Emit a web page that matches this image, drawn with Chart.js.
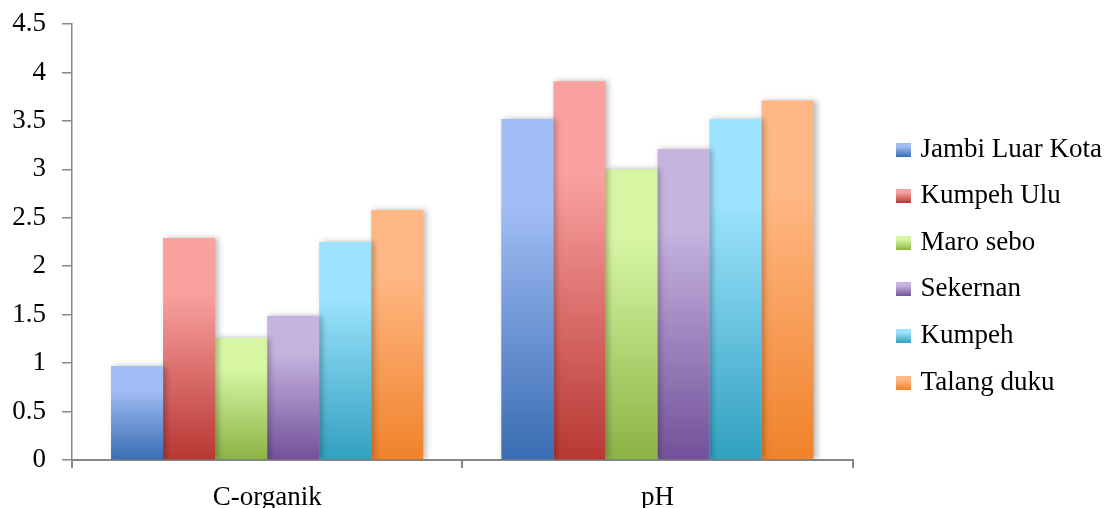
<!DOCTYPE html>
<html>
<head>
<meta charset="utf-8">
<script src="https://cdn.jsdelivr.net/npm/chart.js@4.4.1/dist/chart.umd.min.js"></script>
<style>
  html, body { margin: 0; padding: 0; background: #fff; }
  #wrap { width: 1104px; height: 508px; position: relative; }
</style>
</head>
<body>
<div id="wrap"><canvas id="c" width="1104" height="508"></canvas></div>
<script>
const categories = ['C-organik', 'pH'];
const seriesNames = ['Jambi Luar Kota', 'Kumpeh Ulu', 'Maro sebo', 'Sekernan', 'Kumpeh', 'Talang duku'];
const jambiLuarKota = [0.97, 3.52];
const kumpehUlu = [2.29, 3.91];
const maroSebo = [1.26, 3.0];
const sekernan = [1.49, 3.21];
const kumpeh = [2.25, 3.52];
const talangDuku = [2.58, 3.71];
const yTicks = [0, 0.5, 1, 1.5, 2, 2.5, 3, 3.5, 4, 4.5];

const seriesValues = [jambiLuarKota, kumpehUlu, maroSebo, sekernan, kumpeh, talangDuku];
const lightColors = ['#a2bdf5', '#f9a19f', '#d6f6a4', '#c6b4e0', '#9de3fd', '#ffb885'];
const darkColors  = ['#386cb2', '#b83733', '#8cb244', '#72519a', '#31a0bf', '#f0822a'];

const FONT = '"Liberation Serif", "Times New Roman", serif';
const FS = 27;

function gradFor(ctx2d, top, bottom, i) {
  const g = ctx2d.createLinearGradient(0, top, 0, bottom);
  g.addColorStop(0, lightColors[i]);
  g.addColorStop(0.25, lightColors[i]);
  g.addColorStop(1, darkColors[i]);
  return g;
}

const datasets = seriesNames.map((name, i) => ({
  label: name,
  data: seriesValues[i],
  borderWidth: 0,
  backgroundColor: (c) => {
    const chart = c.chart;
    if (!chart.chartArea || c.type !== 'data') return 'rgba(0,0,0,0)';
    const ys = chart.scales.y;
    const top = ys.getPixelForValue(c.raw);
    const bottom = ys.getPixelForValue(0);
    return gradFor(chart.ctx, top, bottom, c.datasetIndex);
  }
}));

const shadowPlugin = {
  id: 'barShadow',
  beforeDatasetsDraw(chart) {
    const ctx = chart.ctx;
    ctx.save();
    ctx.shadowColor = 'rgba(0,0,0,0.28)';
    ctx.shadowBlur = 6;
    ctx.shadowOffsetX = 3;
    ctx.shadowOffsetY = 0;
  },
  afterDatasetsDraw(chart) {
    chart.ctx.restore();
  }
};

const BOXW = 15;
const BOXH = 14;
const BW = 45.5;
const legendBoxPlugin = {
  id: 'legendBoxes',
  afterDraw(chart) {
    const lg = chart.legend;
    if (!lg || !lg.legendHitBoxes) return;
    const ctx = chart.ctx;
    lg.legendHitBoxes.forEach((hb, i) => {
      const x = Math.round(hb.left + BW + FS / 2 - 25);
      const y = Math.round(hb.top + hb.height / 2 - BOXH / 2);
      ctx.save();
      ctx.fillStyle = gradFor(ctx, y, y + BOXH, i);
      ctx.fillRect(x, y, BOXW, BOXH);
      ctx.restore();
    });
  }
};

new Chart(document.getElementById('c'), {
  type: 'bar',
  data: { labels: categories, datasets },
  options: {
    responsive: false,
    animation: false,
    layout: { padding: { top: 24, right: -8, bottom: 0, left: 0 } },
    datasets: { bar: { barPercentage: 1.0, categoryPercentage: 0.8 } },
    plugins: {
      tooltip: { enabled: false },
      legend: {
        position: 'right',
        labels: {
          boxWidth: BW,
          boxHeight: 37.6,
          padding: 9,
          color: '#000',
          font: { family: FONT, size: FS },
          generateLabels(chart) {
            return chart.data.datasets.map((ds, i) => ({
              text: ds.label,
              fillStyle: 'rgba(0,0,0,0)',
              strokeStyle: 'rgba(0,0,0,0)',
              lineWidth: 0,
              hidden: false,
              datasetIndex: i,
              fontColor: '#000'
            }));
          }
        }
      }
    },
    scales: {
      x: {
        afterFit: (s) => { s.height = 48; s.paddingLeft = 0; s.paddingRight = 0; },
        grid: { display: true, drawOnChartArea: false, drawTicks: true, tickLength: 8, color: '#888', offset: true, lineWidth: 2 },
        border: { display: true, color: '#888', width: 2 },
        ticks: { color: '#000', padding: 16, font: { family: FONT, size: FS, lineHeight: 1 } }
      },
      y: {
        min: 0,
        max: 4.5,
        afterBuildTicks: (s) => { s.ticks = yTicks.map(v => ({ value: v })); },
        afterFit: (s) => { s.width = 72; s.paddingTop = 0; s.paddingBottom = 0; },
        grid: { display: true, drawOnChartArea: false, drawTicks: true, tickLength: 10, color: '#888', lineWidth: 1.5 },
        border: { display: true, color: '#888', width: 1.5 },
        ticks: { color: '#000', padding: 16, font: { family: FONT, size: FS }, callback: (v) => String(v) }
      }
    }
  },
  plugins: [shadowPlugin, legendBoxPlugin]
});
</script>
</body>
</html>
